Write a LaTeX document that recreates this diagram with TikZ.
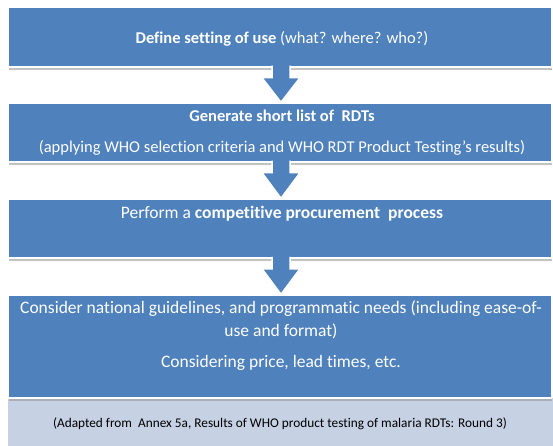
\documentclass[tikz,border=0pt]{standalone}
\usepackage{fontspec}
\setmainfont{Carlito}[Ligatures=NoCommon]
\usetikzlibrary{calc,shadows}

\definecolor{boxblue}{HTML}{4F81BD}
\definecolor{noteblue}{HTML}{C6D1E4}

\tikzset{
  stepbox/.style={draw=white, line width=1.5pt, fill=boxblue, minimum width=543pt, inner sep=0pt,
    drop shadow={shadow xshift=0pt, shadow yshift=-3pt, fill=black!40, opacity=0.6}},
  flowarrow/.style={draw=white, line width=1.5pt, fill=boxblue, line join=miter},
  boxtext/.style={text=white, font=\fontsize{16.5}{19}\selectfont, anchor=base},
  bigtext/.style={boxtext, font=\fontsize{17.5}{20}\selectfont},
  notetext/.style={text=black, font=\fontsize{13.3}{16}\selectfont, anchor=base}
}

\begin{document}
\begin{tikzpicture}[x=1pt,y=-1pt]
\useasboundingbox (0,0) rectangle (553,446);

\fill[noteblue] (8,398) rectangle (553,446);

\node[stepbox, minimum height=60pt]  (define)    at (280,37)    {};
\node[stepbox, minimum height=59pt]  (shortlist) at (280,132.5) {};
\node[stepbox, minimum height=59pt]  (procure)   at (280,228.5) {};
\node[stepbox, minimum height=103pt] (consider)  at (280,346.5) {};

\draw[flowarrow] ($(define.south)+(-8,-2)$) -- ++(0,12) -- ++(-10,0) -- ($(shortlist.north)+(1,0)$) -- ($(define.south)+(20,10)$) -- ++(-10,0) -- ++(0,-12);
\draw[flowarrow] ($(shortlist.south)+(-8,-2)$) -- ++(0,12) -- ++(-10,0) -- ($(procure.north)+(1,0)$) -- ($(shortlist.south)+(20,10)$) -- ++(-10,0) -- ++(0,-12);
\draw[flowarrow] ($(procure.south)+(-8,-2)$) -- ++(0,12) -- ++(-10,0) -- ($(consider.north)+(1,0)$) -- ($(procure.south)+(20,10)$) -- ++(-10,0) -- ++(0,-12);

\node[boxtext] (definetext) at (282,44) {\textbf{Define setting of use} (what? where? who?)};
\node[boxtext] (shortlisttext) at (282,122) {\textbf{Generate short list of\ \ RDTs}};
\node[boxtext] (criteriatext) at (282,153) {(applying WHO selection criteria and WHO RDT Product Testing’s results)};
\node[bigtext] (procuretext) at (282,218) {Perform a \textbf{competitive procurement\ \ process}};
\node[bigtext] (guidetext) at (281,313) {Consider national guidelines, and programmatic needs (including ease-of-};
\node[bigtext] (formattext) at (281,336) {use and format)};
\node[bigtext] (pricetext) at (281,367) {Considering price, lead times, etc.};
\node[notetext] (sourcetext) at (280,427) {(Adapted from\ \ Annex 5a, Results of WHO product testing of malaria RDTs: Round 3)};

\end{tikzpicture}
\end{document}
